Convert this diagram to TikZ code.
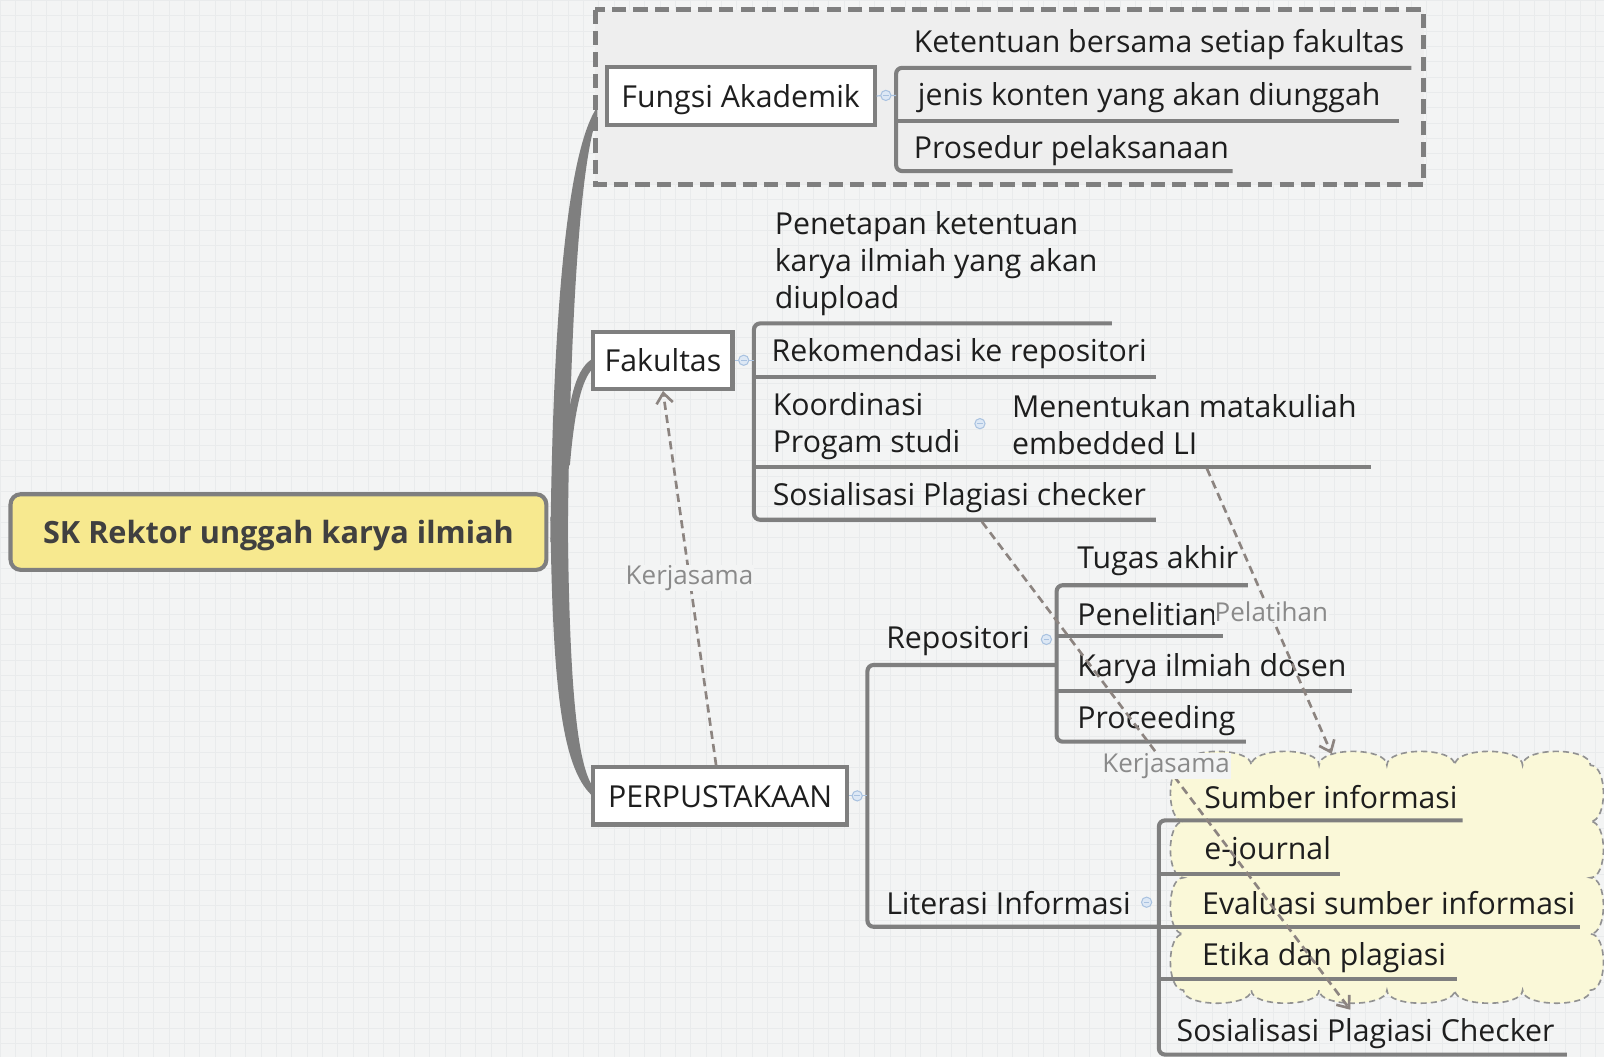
\documentclass[tikz,border=0pt]{standalone}
\usepackage{fontspec}
\setmainfont{Open Sans}
\usetikzlibrary{arrows.meta}

\definecolor{bgcol}{HTML}{F3F4F4}
\definecolor{gridcol}{HTML}{E9EBEC}
\definecolor{linegray}{HTML}{7F7F7F}
\definecolor{txt}{HTML}{1E1E1E}
\definecolor{rootfill}{HTML}{F7E98F}
\definecolor{groupfill}{HTML}{EEEEEE}
\definecolor{cloudfill}{HTML}{FAF8D8}
\definecolor{relcol}{HTML}{8C8480}
\definecolor{labcol}{HTML}{8A8A8A}
\definecolor{markblue}{HTML}{A9C2E0}
\definecolor{markfill}{HTML}{DDE8F5}

\tikzset{
  topic/.style={draw=linegray, line width=2pt, fill=white, inner sep=0pt, text=txt,
    text height=11pt, text depth=0pt},
  sub/.style={anchor=base west, inner sep=0pt, text=txt},
  branch/.style={draw=linegray, line width=2pt, rounded corners=3pt},
  trunk/.style={fill=linegray},
  relation/.style={draw=relcol, line width=1.3pt, dash pattern=on 4pt off 2.5pt,
    -{Straight Barb[length=5pt,width=8pt]}},
  rellabel/.style={text=labcol, fill=bgcol, inner sep=0.3pt, font=\fontsize{12.7}{15}\selectfont},
  foldmark/.style={circle, draw=markblue, fill=markfill, line width=0.5pt,
    minimum size=5pt, inner sep=0pt,
    path picture={\draw[markblue, line width=0.5pt]
      ([xshift=-1.4pt]path picture bounding box.center) --
      ([xshift=1.4pt]path picture bounding box.center);}},
  foldline/.style={draw=markblue, line width=0.6pt},
}

\begin{document}
\begin{tikzpicture}[x=0.5pt, y=-0.5pt, font=\fontsize{14.8}{18}\selectfont]
  % background
  \fill[bgcol] (0,0) rectangle (1568,1033);
  \draw[gridcol, line width=0.3pt, step=7.5pt] (0,0) grid (1568,1033);
  \useasboundingbox (0,0) rectangle (1568,1033);

  % group round Fungsi Akademik
  \draw[fill=groupfill, draw=linegray, line width=2.5pt, dash pattern=on 7pt off 3.5pt]
    (582,9) rectangle (1392,180);

  % cloud round literasi topics
  \draw[fill=cloudfill, draw=linegray!85, line width=0.8pt, dash pattern=on 3pt off 2pt]
    (1157,748)
    \foreach \i in {0,...,5} { .. controls ({1157+66.33*\i},730) and ({1157+66.33*(\i+1)},730) .. ({1157+66.33*(\i+1)},748) }
    \foreach \i in {0,...,3} { .. controls (1572,{748+55*\i}) and (1572,{748+55*(\i+1)}) .. (1555,{748+55*(\i+1)}) }
    \foreach \i in {0,...,5} { .. controls ({1555-66.33*\i},985) and ({1555-66.33*(\i+1)},985) .. ({1555-66.33*(\i+1)},968) }
    \foreach \i in {0,...,3} { .. controls (1140,{968-55*\i}) and (1140,{968-55*(\i+1)}) .. (1157,{968-55*(\i+1)}) }
    -- cycle;

  % main trunk
  \fill[trunk] (538,530) .. controls (540,330) and (552,150) .. (584,104)
    -- (584,113) .. controls (566,160) and (557,330) .. (555,518) -- cycle;
  \fill[trunk] (538,505) .. controls (540,690) and (552,760) .. (584,782)
    -- (584,774) .. controls (566,760) and (557,690) .. (555,518) -- cycle;
  \fill[trunk] (550,450) .. controls (556,390) and (562,358) .. (582,349)
    -- (582,358) .. controls (570,366) and (562,395) .. (557,455) -- cycle;

  % topics
  \node[topic, fill=rootfill, rounded corners=5pt, minimum width=262pt, minimum height=37pt,
    text=txt!85, font=\fontsize{15}{18}\selectfont\bfseries] (root) at (272,520) {SK Rektor unggah karya ilmiah};
  \node[topic, minimum width=131pt, minimum height=28.5pt] (fungsi) at (724,93.5) {Fungsi Akademik};
  \node[topic, minimum width=68pt, minimum height=28pt] (fak) at (648,352) {Fakultas};
  \node[topic, minimum width=124pt, minimum height=28pt] (perpus) at (704,778) {PERPUSTAKAAN};

  % Fungsi Akademik
  \draw[branch] (1380,66) -- (876,66) -- (876,167) -- (1205,167);
  \draw[branch] (876,118) -- (1368,118);
  \draw[foldline] (fungsi.east) -- (876,93);
  \node[foldmark] (f1) at (866,93) {};
  \node[sub] (ket) at (893,51) {Ketentuan bersama setiap fakultas};
  \node[sub] (jen) at (897,103) {jenis konten yang akan diunggah};
  \node[sub] (pro) at (893,155) {Prosedur pelaksanaan};

  % Fakultas
  \draw[branch] (1087,316) -- (737,316) -- (737,508) -- (1130,508);
  \draw[branch] (737,368) -- (1130,368);
  \draw[branch] (737,456) -- (1340,456);
  \draw[foldline] (fak.east) -- (737,352);
  \node[foldmark] (f2) at (727,352) {};
  \node[sub, align=left] (pen) at (757,301) {Penetapan ketentuan\\karya ilmiah yang akan\\diupload};
  \node[sub] (rek) at (754,353) {Rekomendasi ke repositori};
  \node[sub, align=left] (koo) at (755,442) {Koordinasi\\Progam studi};
  \node[foldmark] (f3) at (958,414) {};
  \node[sub, align=left] (men) at (989,444) {Menentukan matakuliah\\embedded LI};
  \node[sub] (sos) at (755,494) {Sosialisasi Plagiasi checker};

  % Perpustakaan
  \draw[branch] (1033,650) -- (848,650) -- (848,906) -- (1133,906);
  \draw[foldline] (perpus.east) -- (848,778);
  \node[foldmark] (f4) at (838,778) {};
  \node[sub] (repo) at (866,634) {Repositori};
  \node[sub] (lit) at (866,894) {Literasi Informasi};
  \node[foldmark] (f5) at (1023,625) {};
  \node[foldmark] (f6) at (1121,882) {};

  % Repositori
  \draw[branch] (1220,572) -- (1033,572) -- (1033,725) -- (1218,725);
  \draw[branch] (1033,622) -- (1196,622);
  \draw[branch] (1033,675) -- (1322,675);
  \node[sub] (tug) at (1053,556) {Tugas akhir};
  \node[sub] (pel) at (1053,611) {Penelitian};
  \node[sub] (kar) at (1053,661) {Karya ilmiah dosen};
  \node[sub] (proc) at (1053,712) {Proceeding};

  % Literasi Informasi
  \draw[branch] (1430,802) -- (1133,802) -- (1133,1031) -- (1532,1031);
  \draw[branch] (1133,854) -- (1310,854);
  \draw[branch] (1133,906) -- (1545,906);
  \draw[branch] (1133,957) -- (1425,957);
  \node[sub] (sum) at (1177,790) {Sumber informasi};
  \node[sub] (ejo) at (1177,840) {e-journal};
  \node[sub] (eva) at (1175,894) {Evaluasi sumber informasi};
  \node[sub] (eti) at (1175,944) {Etika dan plagiasi};
  \node[sub] (spc) at (1150,1018) {Sosialisasi Plagiasi Checker};

  % relationships
  \coordinate (sosline) at (960,510);
  \coordinate (menline) at (1180,458);
  \coordinate (cloudtop) at (1302,737);
  \draw[relation] ([xshift=-2pt]perpus.north) -- node[rellabel] {Kerjasama} (fak.south);
  \draw[relation] (sosline) -- node[rellabel] {Kerjasama} ([xshift=-7.5pt,yshift=4pt]spc.north);
  \draw[relation] (menline) -- node[rellabel, xshift=1pt] {Pelatihan} (cloudtop);
\end{tikzpicture}
\end{document}
